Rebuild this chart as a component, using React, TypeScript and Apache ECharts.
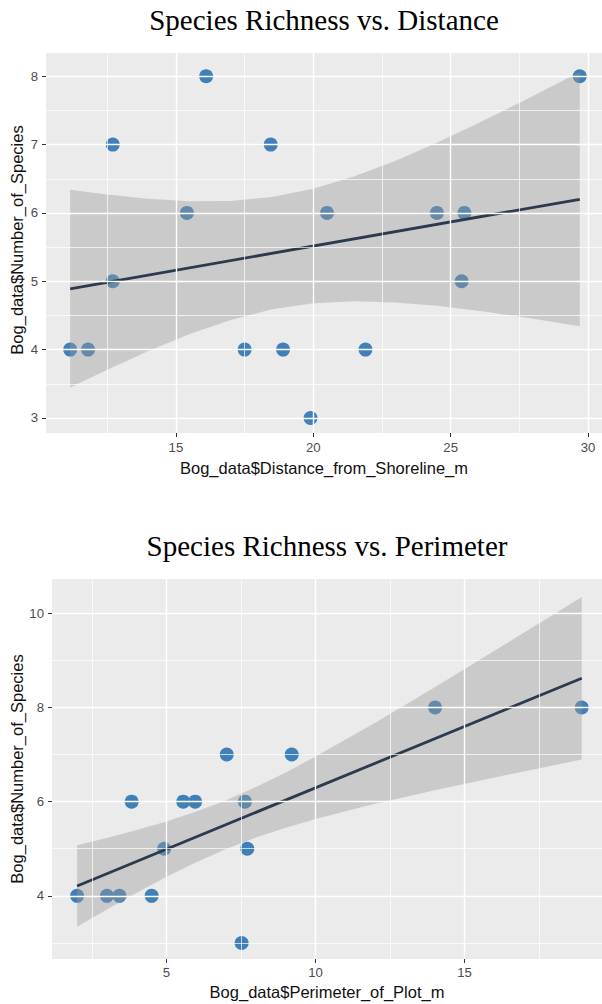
import React, { useEffect, useRef } from "react";
import * as echarts from "echarts";

// ---- Chart 1: Species Richness vs. Distance ----
const distX = [11.15, 11.8, 12.7, 12.7, 15.4, 16.1, 17.5, 18.45, 18.9, 19.9, 20.5, 21.9, 24.5, 25.5, 25.4, 29.7];
const distY = [4, 4, 7, 5, 6, 8, 4, 7, 4, 3, 6, 4, 6, 6, 5, 8];
const distFitX = [11.15, 29.7];
const distFitY = [4.89, 6.2];
const distBandX = [11.15, 12.5, 14, 15.5, 17, 18.5, 20, 21.5, 23, 24.5, 26, 27.5, 29.7];
const distBandLo = [3.445, 3.706, 3.98, 4.227, 4.435, 4.589, 4.679, 4.708, 4.691, 4.641, 4.569, 4.484, 4.341];
const distBandHi = [6.339, 6.268, 6.206, 6.171, 6.175, 6.233, 6.355, 6.536, 6.765, 7.027, 7.311, 7.608, 8.061];
const distXTicks = [15, 20, 25, 30];
const distYTicks = [3, 4, 5, 6, 7, 8];
const distXMinor = [12.5, 17.5, 22.5, 27.5];
const distYMinor = [3.5, 4.5, 5.5, 6.5, 7.5];

// ---- Chart 2: Species Richness vs. Perimeter ----
const perX = [2.0, 3.0, 3.42, 4.5, 7.52, 4.92, 7.71, 3.83, 5.56, 5.96, 7.63, 7.02, 9.2, 14.01, 18.93];
const perY = [4, 4, 4, 4, 3, 5, 5, 6, 6, 6, 6, 7, 7, 8, 8];
const perFitX = [2.0, 18.93];
const perFitY = [4.21, 8.62];
const perBandX = [2, 3, 4, 5, 6, 7, 8, 9, 10, 12, 14, 16, 18.93];
const perBandLo = [3.345, 3.711, 4.066, 4.403, 4.715, 4.994, 5.237, 5.446, 5.632, 5.953, 6.241, 6.513, 6.895];
const perBandHi = [5.075, 5.229, 5.396, 5.579, 5.789, 6.03, 6.309, 6.62, 6.956, 7.677, 8.431, 9.201, 10.345];
const perXTicks = [5, 10, 15];
const perYTicks = [4, 6, 8, 10];
const perXMinor = [2.5, 7.5, 12.5, 17.5];
const perYMinor = [3, 5, 7, 9];

const titles = ["Species Richness vs. Distance", "Species Richness vs. Perimeter"];
const xTitles = ["Bog_data$Distance_from_Shoreline_m", "Bog_data$Perimeter_of_Plot_m"];
const yTitle = "Bog_data$Number_of_Species";

const SANS = "Liberation Sans, Arial, Helvetica, sans-serif";
const SERIF = "Liberation Serif, Times New Roman, serif";
const POINT = "#4080B8";
const LINE = "#2B3A4C";

function gridLinesSeries(idx: number, xMaj: number[], yMaj: number[], xMin: number[], yMin: number[]) {
  const maj = { color: "#ffffff", width: 1.4, type: "solid" as const };
  const mn = { color: "#ffffff", width: 0.7, type: "solid" as const };
  const data: any[] = [];
  xMin.forEach((v) => data.push({ xAxis: v, lineStyle: mn }));
  yMin.forEach((v) => data.push({ yAxis: v, lineStyle: mn }));
  xMaj.forEach((v) => data.push({ xAxis: v, lineStyle: maj }));
  yMaj.forEach((v) => data.push({ yAxis: v, lineStyle: maj }));
  return {
    type: "line",
    xAxisIndex: idx,
    yAxisIndex: idx,
    data: [],
    z: 1,
    silent: true,
    markLine: {
      silent: true,
      symbol: ["none", "none"],
      label: { show: false },
      emphasis: { disabled: true },
      data,
    },
  };
}

function bandSeries(idx: number, bx: number[], lo: number[], hi: number[]) {
  return {
    type: "custom",
    xAxisIndex: idx,
    yAxisIndex: idx,
    data: [0],
    z: 3,
    silent: true,
    renderItem: (_p: any, api: any) => {
      const pts: number[][] = [];
      for (let i = 0; i < bx.length; i++) pts.push(api.coord([bx[i], hi[i]]));
      for (let i = bx.length - 1; i >= 0; i--) pts.push(api.coord([bx[i], lo[i]]));
      return {
        type: "polygon",
        shape: { points: pts },
        style: { fill: "rgba(153,153,153,0.4)" },
      };
    },
  };
}

function axisX(idx: number, min: number, max: number, ticks: number[], margin: number) {
  return {
    type: "value",
    gridIndex: idx,
    min,
    max,
    axisLine: { show: false },
    axisTick: { show: true, customValues: ticks, length: 4, lineStyle: { color: "#333", width: 1 } },
    axisLabel: { customValues: ticks, color: "#4D4D4D", fontSize: 13.2, fontFamily: SANS, margin },
    splitLine: { show: false },
  };
}

function axisY(idx: number, min: number, max: number, ticks: number[]) {
  return {
    type: "value",
    gridIndex: idx,
    min,
    max,
    axisLine: { show: false },
    axisTick: { show: true, customValues: ticks, length: 4, lineStyle: { color: "#333", width: 1 } },
    axisLabel: { customValues: ticks, color: "#4D4D4D", fontSize: 13.2, fontFamily: SANS, margin: 8 },
    splitLine: { show: false },
  };
}

export default function App() {
  const ref = useRef<HTMLDivElement>(null);
  useEffect(() => {
    document.body.style.margin = "0";
    if (!ref.current) return;
    const chart = echarts.init(ref.current, undefined, { renderer: "svg" });
    const option: any = {
      animation: false,
      backgroundColor: "#ffffff",
      grid: [
        { left: 46, top: 53, right: 0, height: 380, show: true, backgroundColor: "#EBEBEB", borderWidth: 0 },
        { left: 52, top: 579, right: 0, height: 380, show: true, backgroundColor: "#EBEBEB", borderWidth: 0 },
      ],
      xAxis: [axisX(0, 10.27, 30.51, distXTicks, 8), axisX(1, 1.158, 19.61, perXTicks, 7)],
      yAxis: [axisY(0, 2.78, 8.34, distYTicks), axisY(1, 2.659, 10.727, perYTicks)],
      graphic: [
        { type: "text", x: 324, y: 20, style: { text: titles[0], font: `29px ${SERIF}`, fill: "#000", align: "center", verticalAlign: "middle" } },
        { type: "text", x: 327, y: 546, style: { text: titles[1], font: `29px ${SERIF}`, fill: "#000", align: "center", verticalAlign: "middle" } },
        { type: "text", x: 324, y: 468, style: { text: xTitles[0], font: `16.5px ${SANS}`, fill: "#111", align: "center", verticalAlign: "middle" } },
        { type: "text", x: 327, y: 992, style: { text: xTitles[1], font: `16.5px ${SANS}`, fill: "#111", align: "center", verticalAlign: "middle" } },
        { type: "text", x: 17, y: 240, rotation: Math.PI / 2, style: { text: yTitle, font: `16.5px ${SANS}`, fill: "#111", align: "center", verticalAlign: "middle" } },
        { type: "text", x: 17, y: 769, rotation: Math.PI / 2, style: { text: yTitle, font: `16.5px ${SANS}`, fill: "#111", align: "center", verticalAlign: "middle" } },
      ],
      series: [
        gridLinesSeries(0, distXTicks, distYTicks, distXMinor, distYMinor),
        gridLinesSeries(1, perXTicks, perYTicks, perXMinor, perYMinor),
        {
          type: "scatter",
          xAxisIndex: 0,
          yAxisIndex: 0,
          z: 2,
          symbolSize: 14,
          itemStyle: { color: POINT, opacity: 1 },
          data: distX.map((x, i) => [x, distY[i]]),
          silent: true,
        },
        {
          type: "scatter",
          xAxisIndex: 1,
          yAxisIndex: 1,
          z: 2,
          symbolSize: 14,
          itemStyle: { color: POINT, opacity: 1 },
          data: perX.map((x, i) => [x, perY[i]]),
          silent: true,
        },
        bandSeries(0, distBandX, distBandLo, distBandHi),
        bandSeries(1, perBandX, perBandLo, perBandHi),
        {
          type: "line",
          xAxisIndex: 0,
          yAxisIndex: 0,
          z: 4,
          symbol: "none",
          lineStyle: { color: LINE, width: 2.8 },
          data: distFitX.map((x, i) => [x, distFitY[i]]),
          silent: true,
        },
        {
          type: "line",
          xAxisIndex: 1,
          yAxisIndex: 1,
          z: 4,
          symbol: "none",
          lineStyle: { color: LINE, width: 2.8 },
          data: perFitX.map((x, i) => [x, perFitY[i]]),
          silent: true,
        },
      ],
    };
    chart.setOption(option);
    return () => chart.dispose();
  }, []);
  return <div ref={ref} style={{ width: 602, height: 1004 }} />;
}
